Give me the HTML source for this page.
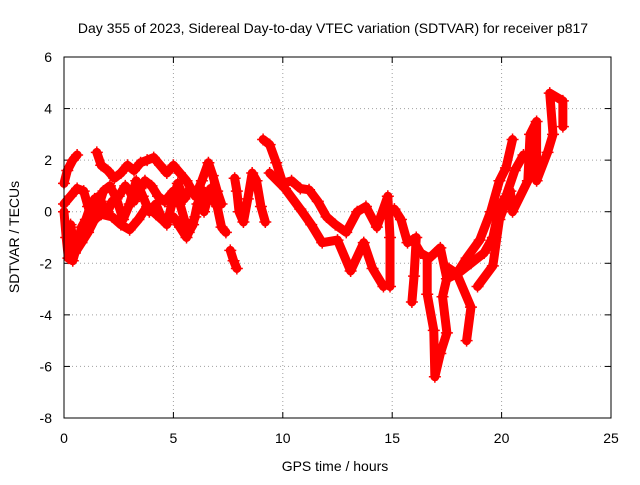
<!DOCTYPE html>
<html><head><meta charset="utf-8"><style>
body{margin:0;background:#fff}
svg text{font-family:"Liberation Sans",sans-serif;font-size:14px;fill:#000}
</style></head><body>
<svg id="chart" width="640" height="480" xmlns="http://www.w3.org/2000/svg">
<rect width="640" height="480" fill="#fff"/>
<text x="333" y="33" text-anchor="middle">Day 355 of 2023, Sidereal Day-to-day VTEC variation (SDTVAR) for receiver p817</text>
<text x="335" y="471" text-anchor="middle">GPS time / hours</text>
<text x="0" y="0" text-anchor="middle" transform="translate(19,237) rotate(-90)">SDTVAR / TECUs</text>
<g id="grid"></g><g id="ticks"></g><g id="series"></g>
<rect x="64" y="57" width="547" height="361" fill="none" stroke="#000" stroke-width="1"/>
</svg>
<script>
const xTicks=[0,5,10,15,20,25];
const yTicks=[-8,-6,-4,-2,0,2,4,6];
const trackA=[[0,1.1],[0.15,1.6],[0.4,2.0],[0.6,2.2]];
const trackB=[[0,0],[0.1,-1.0],[0.2,-1.8],[0.4,-1.9],[0.6,-1.3],[0.8,-0.6],[1.0,-0.3],[1.2,0.2],[1.4,0.5],[1.6,0.6],[1.8,0.2],[2.0,0.0],[2.2,0.4],[2.5,0.6],[2.8,1.0],[3.0,0.8],[3.2,0.4],[3.5,0.9],[3.7,1.2],[4.0,1.0],[4.3,0.6],[4.6,0.4],[5.0,0.8],[5.3,0.3],[5.5,-0.3],[5.7,-0.8],[5.9,-0.5],[6.1,0.3],[6.4,0.8],[6.7,0.6],[7.0,0.2],[7.2,-0.6],[7.4,-0.8]];
const trackC=[[1.5,2.3],[1.7,1.8],[2.0,1.6],[2.3,1.3],[2.6,1.5],[2.9,1.8],[3.2,1.6],[3.5,1.9],[3.8,2.0],[4.1,2.1],[4.4,1.8],[4.7,1.5],[5.0,1.8],[5.3,1.5],[5.6,1.2],[6.0,0.6],[6.3,1.2],[6.6,1.9],[6.8,1.4],[7.0,0.8],[7.2,0.3]];
const trackD=[[0,0.3],[0.3,0.6],[0.6,0.9],[0.9,0.8],[1.1,0.2],[1.3,-0.4],[1.5,0.0],[1.8,0.8],[2.1,1.0],[2.4,0.5],[2.7,-0.3],[3.0,0.3],[3.3,1.2],[3.6,0.6],[3.9,0.0],[4.2,0.3],[4.5,-0.3],[4.7,-0.5],[4.9,0.2],[5.2,1.1],[5.5,0.5],[5.8,0.9],[6.1,0.6],[6.4,0.0],[6.7,0.9],[7.0,0.3]];
const trackE=[[0.3,-0.5],[0.5,-1.6],[0.8,-1.2],[1.1,-0.8],[1.4,-0.3],[1.7,-0.1],[2.2,-0.2],[2.6,-0.5],[3.0,-0.7],[3.4,-0.3],[3.8,0.2],[4.2,-0.1],[4.6,-0.4],[5.0,-0.2],[5.3,-0.6],[5.6,-1.0],[6.0,-0.2]];
const trackF=[[7.6,-1.5],[7.75,-1.9],[7.9,-2.2]];
const trackG=[[7.8,1.3],[7.9,0.8],[8.0,0.0],[8.2,-0.4],[8.4,0.5],[8.6,1.5],[8.8,1.2],[9.0,0.2],[9.2,-0.4]];
const trackR1=[[9.1,2.8],[9.4,2.6],[9.7,1.9],[10.0,1.1],[10.4,1.2],[10.8,0.9],[11.2,0.85],[11.6,0.4],[12.0,-0.2],[12.4,-0.5],[12.9,-0.8],[13.4,0.0],[13.8,0.2],[14.3,-0.6],[14.8,0.6],[14.9,-1.0],[14.9,-2.9]];
const trackR2=[[9.4,1.5],[10.1,0.9],[10.8,0.1],[11.3,-0.5],[11.8,-1.2],[12.5,-1.1],[13.1,-2.3],[13.7,-1.2],[14.1,-2.2],[14.6,-2.9]];
const trackR3=[[15.1,0.1],[15.4,-0.3],[15.7,-1.2],[16.1,-1.0],[16.0,-2.5],[15.9,-3.5]];
const trackR4=[[15.95,-1.1],[16.3,-1.6],[16.7,-1.8],[17.2,-1.4],[17.5,-2.6],[17.95,-2.4],[18.4,-1.8],[19.0,-1.1],[19.5,0.0],[19.9,1.2],[20.2,1.7],[20.5,2.8]];
const trackR5=[[16.6,-1.8],[16.6,-3.2],[16.9,-4.6],[16.95,-6.4],[17.2,-5.5],[17.5,-4.7],[17.3,-3.3],[17.6,-2.2],[17.95,-2.4],[18.6,-3.7],[18.4,-5.0]];
const trackR6=[[18.9,-2.9],[19.6,-2.1],[19.9,-0.3],[20.4,0.8],[20.5,0.0],[21.2,1.2],[21.3,3.0],[21.6,3.5],[21.6,1.2],[22.1,2.3],[22.35,3.0],[22.2,4.6],[22.8,4.3],[22.8,3.3]];
const trackR7=[[18.0,-2.4],[18.6,-2.0],[19.2,-1.6],[19.6,-1.0],[19.9,0.2],[20.2,0.6],[20.6,1.6],[21.0,2.2],[21.3,2.0]];
const allTracks=[trackA,trackB,trackC,trackD,trackE,trackF,trackG,trackR1,trackR2,trackR3,trackR4,trackR5,trackR6,trackR7];

const NS="http://www.w3.org/2000/svg";
const X=v=>64+v*547/25;
const Y=v=>418-(v+8)*361/14;
function mk(t,a,p){const e=document.createElementNS(NS,t);for(const k in a)e.setAttribute(k,a[k]);p.appendChild(e);return e;}
const grid=document.getElementById('grid'),ticks=document.getElementById('ticks'),ser=document.getElementById('series');
xTicks.forEach(t=>{
  if(t>0&&t<25){const g=mk('line',{x1:X(t),x2:X(t),y1:57,y2:418,stroke:'#a0a0a0','stroke-dasharray':'1,3'},grid);
  
  }
  mk('line',{x1:X(t),x2:X(t),y1:418,y2:412,stroke:'#000'},ticks);
  mk('line',{x1:X(t),x2:X(t),y1:57,y2:63,stroke:'#000'},ticks);
  const l=mk('text',{x:X(t),y:443,'text-anchor':'middle'},ticks);l.textContent=t;
  
  
});
yTicks.forEach(t=>{
  if(t>-8&&t<6){const g=mk('line',{x1:64,x2:611,y1:Y(t),y2:Y(t),stroke:'#a0a0a0','stroke-dasharray':'1,3'},grid);
  
  }
  mk('line',{x1:64,x2:70,y1:Y(t),y2:Y(t),stroke:'#000'},ticks);
  mk('line',{x1:605,x2:611,y1:Y(t),y2:Y(t),stroke:'#000'},ticks);
  const l=mk('text',{x:52,y:Y(t)+5,'text-anchor':'end'},ticks);l.textContent=t;
  
  
});
allTracks.forEach(tr=>{
  const pl=mk('polyline',{points:tr.map(p=>X(p[0])+','+Y(p[1])).join(' '),fill:'none',stroke:'#f00','stroke-width':9,'stroke-linejoin':'round','stroke-linecap':'round'},ser);
  
  
  tr.forEach(p=>{
    const m=mk('path',{d:`M${X(p[0])-6},${Y(p[1])}h12M${X(p[0])},${Y(p[1])-6}v12`,stroke:'#f00','stroke-width':1.5},ser);
    
    
  });
});
</script>
</body></html>
